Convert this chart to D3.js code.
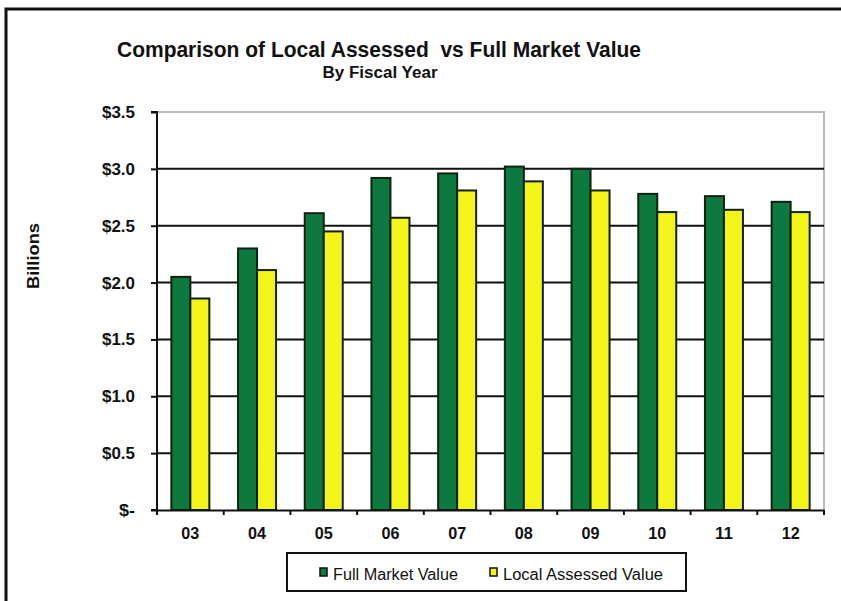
<!DOCTYPE html>
<html>
<head>
<meta charset="utf-8">
<script src="https://cdn.jsdelivr.net/npm/d3@7"></script>
<style>
  html, body { margin: 0; padding: 0; background: #fff; }
  svg { display: block; }
  text { font-family: "Liberation Sans", Arial, sans-serif; font-weight: bold; fill: #111; }
</style>
</head>
<body>
<svg id="chart" width="841" height="601"></svg>
<script>
// Fiscal years and values (billions of dollars)
const years = ["03", "04", "05", "06", "07", "08", "09", "10", "11", "12"];
const fullMarketValue = [2.05, 2.30, 2.61, 2.92, 2.96, 3.02, 3.00, 2.78, 2.76, 2.71];
const localAssessedValue = [1.86, 2.11, 2.45, 2.57, 2.81, 2.89, 2.81, 2.62, 2.64, 2.62];
const yTicks = [0, 0.5, 1.0, 1.5, 2.0, 2.5, 3.0, 3.5];
const seriesNames = ["Full Market Value", "Local Assessed Value"];
const seriesColors = ["#0e793e", "#f4f41a"];

const svg = d3.select("#chart");
const margin = { left: 157, right: 17, top: 112, bottom: 91 };
const W = 841, H = 601;
const plotW = W - margin.left - margin.right;
const plotH = H - margin.top - margin.bottom;

// Outer frame (top and left edges)
svg.append("path")
  .attr("d", `M6,${H} L6,9 L${W},9`)
  .attr("fill", "none").attr("stroke", "#111").attr("stroke-width", 3);

const x = d3.scaleBand().domain(years).range([0, plotW]);
const barW = 19;
const xs = d3.scaleBand().domain(seriesNames)
  .range([x.bandwidth() / 2 - barW, x.bandwidth() / 2 + barW]);
const y = d3.scaleLinear().domain([0, 3.5]).range([plotH, 0]);

const g = svg.append("g").attr("transform", `translate(${margin.left},${margin.top})`);

// Plot frame: light top/right edges
g.append("path")
  .attr("d", `M0,${y(3.5)} L${plotW},${y(3.5)} L${plotW},${plotH}`)
  .attr("fill", "none").attr("stroke", "#bbb").attr("stroke-width", 2);

// Gridlines
g.selectAll("line.grid").data(yTicks.filter(t => t > 0 && t < 3.5)).join("line")
  .attr("class", "grid")
  .attr("x1", 0).attr("x2", plotW)
  .attr("y1", d => y(d)).attr("y2", d => y(d))
  .attr("stroke", "#111").attr("stroke-width", 2);

// Bars
const data = years.map((yr, i) => ({ yr, vals: [fullMarketValue[i], localAssessedValue[i]] }));
const groups = g.selectAll("g.yr").data(data).join("g")
  .attr("class", "yr")
  .attr("transform", d => `translate(${x(d.yr)},0)`);
groups.selectAll("rect").data(d => d.vals.map((v, k) => ({ v, k }))).join("rect")
  .attr("x", d => xs(seriesNames[d.k]))
  .attr("width", xs.bandwidth())
  .attr("y", d => y(d.v))
  .attr("height", d => y(0) - y(d.v))
  .attr("fill", d => seriesColors[d.k])
  .attr("stroke", "#112211").attr("stroke-width", 2);

// Y axis
const yFmt = d => d === 0 ? "$-" : "$" + d3.format(".1f")(d);
const yAxis = d3.axisLeft(y).tickValues(yTicks).tickSize(6).tickPadding(16).tickFormat(yFmt);
const ya = g.append("g").call(yAxis);
ya.select(".domain").attr("stroke", "#111").attr("stroke-width", 2).attr("d", `M-6,0H0V${plotH}H-6`);
ya.selectAll(".tick line").attr("stroke", "#111").attr("stroke-width", 2);
ya.selectAll(".tick text")
  .style("font-size", "17px").style("font-family", null).attr("fill", "#111")
  .attr("textLength", d => d === 0 ? 16 : 33).attr("lengthAdjust", "spacingAndGlyphs");

// X axis
const xAxis = d3.axisBottom(x).tickSize(0).tickPadding(17);
const xa = g.append("g").attr("transform", `translate(0,${plotH})`).call(xAxis);
xa.select(".domain").attr("stroke", "#111").attr("stroke-width", 2);
xa.selectAll(".tick text")
  .style("font-size", "17px").style("font-family", null).attr("fill", "#111")
  .attr("textLength", 18).attr("lengthAdjust", "spacingAndGlyphs");
// Category separators below the baseline
xa.selectAll("line.sep").data(d3.range(years.length + 1)).join("line")
  .attr("class", "sep")
  .attr("x1", i => i * x.step()).attr("x2", i => i * x.step())
  .attr("y1", 0).attr("y2", 5)
  .attr("stroke", "#111").attr("stroke-width", 2);

// Titles
svg.append("text").attr("x", 379).attr("y", 57).attr("text-anchor", "middle")
  .attr("xml:space", "preserve")
  .attr("textLength", 524).attr("lengthAdjust", "spacingAndGlyphs")
  .style("font-size", "22px").text("Comparison of Local Assessed  vs Full Market Value");
svg.append("text").attr("x", 380).attr("y", 78).attr("text-anchor", "middle")
  .attr("textLength", 115).attr("lengthAdjust", "spacingAndGlyphs")
  .style("font-size", "16px").text("By Fiscal Year");
svg.append("text").attr("transform", "translate(39,256) rotate(-90)").attr("text-anchor", "middle")
  .attr("textLength", 66).attr("lengthAdjust", "spacingAndGlyphs")
  .style("font-size", "16px").text("Billions");

// Legend
const lg = svg.append("g").attr("transform", "translate(287,553)");
lg.append("rect").attr("width", 399).attr("height", 38)
  .attr("fill", "#fff").attr("stroke", "#111").attr("stroke-width", 2);
const legendX = [33, 203];
const legendW = [125, 160];
seriesNames.forEach((name, k) => {
  lg.append("rect").attr("x", legendX[k]).attr("y", 15).attr("width", 7).attr("height", 8)
    .attr("fill", seriesColors[k]).attr("stroke", "#111").attr("stroke-width", 1.5);
  lg.append("text").attr("x", legendX[k] + 13).attr("y", 27)
    .attr("textLength", legendW[k]).attr("lengthAdjust", "spacingAndGlyphs")
    .style("font-size", "16px").style("font-weight", "normal").text(name);
});
</script>
</body>
</html>
